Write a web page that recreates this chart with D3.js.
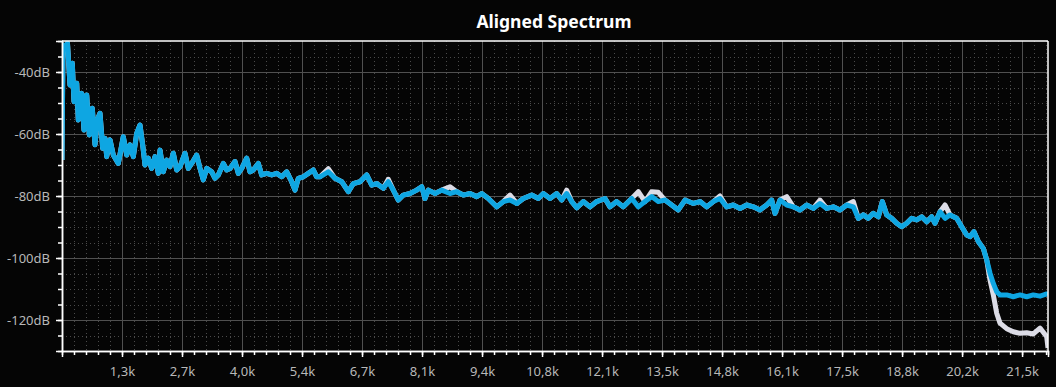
<!DOCTYPE html>
<html>
<head>
<meta charset="utf-8">
<script src="https://cdn.jsdelivr.net/npm/d3@7"></script>
<style>
  html, body { margin: 0; padding: 0; background: #050505; }
  svg { display: block; }
</style>
</head>
<body>
<svg id="spectrum"></svg>
<script>
// frequency of each sample (Hz)
var freqs = [
  0, 22, 67, 123, 179, 231, 269, 330, 365, 442, 493, 554, 612, 679, 740, 791, 852, 912, 964, 1002,
  1076, 1150, 1262, 1374, 1451, 1525, 1599, 1675, 1749, 1809, 1861, 1935, 2011, 2085, 2159, 2197, 2271, 2347, 2421, 2495,
  2572, 2646, 2758, 2832, 2908, 3020, 3094, 3168, 3244, 3356, 3430, 3504, 3616, 3693, 3767, 3879, 3953, 4029, 4141, 4215,
  4289, 4401, 4477, 4589, 4702, 4814, 4926, 5038, 5150, 5224, 5298, 5410, 5522, 5634, 5710, 5784, 5970, 6121, 6271, 6419,
  6531, 6681, 6831, 6944, 7056, 7204, 7316, 7428, 7540, 7652, 7802, 7952, 8065, 8138, 8212, 8363, 8513, 8699, 8849, 8997,
  9147, 9297, 9410, 9558, 9746, 9894, 10044, 10195, 10343, 10531, 10679, 10791, 10941, 11091, 11203, 11315, 11428, 11540, 11688, 11838,
  11988, 12174, 12286, 12436, 12584, 12773, 12921, 13071, 13221, 13369, 13519, 13669, 13817, 13968, 14154, 14304, 14454, 14602, 14752, 14902,
  15050, 15201, 15351, 15499, 15649, 15799, 15911, 15985, 16097, 16248, 16396, 16546, 16696, 16844, 16994, 17144, 17292, 17443, 17593, 17741,
  17853, 17965, 18077, 18189, 18302, 18391, 18490, 18602, 18714, 18826, 18938, 19050, 19162, 19275, 19387, 19499, 19573, 19685, 19797, 19909,
  20059, 20171, 20283, 20357, 20447, 20543, 20655, 20732, 20806, 20880, 20956, 21030, 21180, 21328, 21478, 21628, 21776, 21927, 22077, 22106
];

// aligned spectrum (blue)
var alignedDb = [
  -68.4, -31.3, -32.5, -30.7, -44.2, -37.2, -49.6, -43.6, -55.5, -46.9, -58.7, -47.4, -60.3, -51.7, -63.5, -55.5, -53.3, -64.6, -61.4, -67.3,
  -61.9, -66.8, -69.5, -60.9, -66.8, -63.5, -67.3, -59.8, -57.1, -63.5, -70.0, -67.8, -71.1, -67.3, -72.7, -65.2, -72.2, -68.4, -70.5, -66.2,
  -71.6, -70.5, -66.2, -71.1, -69.5, -66.8, -71.1, -74.8, -71.1, -72.2, -74.3, -73.2, -69.5, -71.6, -71.1, -68.9, -72.7, -71.1, -67.8, -72.2,
  -71.6, -69.5, -73.2, -72.7, -73.2, -72.7, -73.8, -72.2, -75.4, -78.1, -74.3, -73.8, -72.7, -71.6, -73.8, -73.8, -72.2, -74.3, -75.4, -78.6,
  -76.0, -75.4, -73.2, -76.5, -76.0, -77.5, -75.4, -78.1, -81.3, -79.7, -79.2, -78.1, -77.0, -80.8, -78.1, -79.2, -78.1, -79.2, -78.6, -79.7,
  -79.2, -80.2, -79.2, -80.8, -83.5, -81.8, -81.3, -82.4, -80.8, -79.7, -80.8, -79.2, -80.8, -79.2, -81.3, -79.2, -81.8, -83.8, -81.8, -83.5,
  -81.8, -80.8, -83.5, -81.8, -83.5, -80.8, -83.5, -81.8, -80.2, -81.8, -81.3, -82.9, -84.5, -81.3, -82.4, -81.8, -83.5, -81.8, -80.8, -83.5,
  -82.9, -84.0, -82.9, -83.5, -84.5, -82.9, -81.3, -85.6, -81.3, -82.9, -83.5, -84.5, -82.9, -84.0, -82.4, -84.0, -83.5, -84.5, -82.9, -83.5,
  -87.2, -86.1, -87.2, -85.6, -86.7, -81.8, -86.1, -87.2, -88.8, -89.9, -88.8, -87.2, -87.7, -86.7, -88.3, -86.7, -88.8, -85.1, -87.2, -86.1,
  -87.2, -89.9, -92.6, -93.1, -91.5, -94.7, -96.9, -100.6, -104.9, -108.2, -110.9, -111.9, -111.9, -112.5, -111.9, -112.5, -111.9, -112.3, -111.6, -111.8
];

// reference spectrum (white, mostly hidden under the blue one)
var referenceDb = [
  -68.4, -31.3, -32.5, -30.7, -44.2, -37.2, -49.6, -43.6, -55.5, -46.9, -58.7, -47.4, -60.3, -51.7, -63.5, -55.5, -53.3, -64.6, -61.4, -67.3,
  -61.9, -66.8, -69.5, -60.9, -66.8, -63.5, -67.3, -59.8, -57.1, -63.5, -70.0, -67.8, -71.1, -67.3, -72.7, -65.2, -72.2, -68.4, -70.5, -66.2,
  -71.6, -70.5, -66.2, -71.1, -69.5, -66.8, -71.1, -74.8, -71.1, -72.2, -74.3, -73.2, -69.5, -71.6, -71.1, -68.9, -72.7, -71.1, -67.8, -72.2,
  -71.6, -69.5, -73.2, -72.7, -73.2, -72.7, -73.8, -72.2, -75.4, -78.1, -74.3, -73.8, -72.7, -71.6, -73.8, -73.8, -71.2, -74.3, -75.4, -78.6,
  -76.0, -75.4, -73.2, -76.5, -76.0, -77.5, -74.6, -78.1, -81.3, -79.7, -79.2, -78.1, -77.0, -80.8, -78.1, -79.2, -78.1, -77.0, -78.6, -79.7,
  -79.2, -80.2, -79.2, -80.8, -83.5, -81.8, -79.7, -82.4, -80.8, -79.7, -80.8, -79.2, -80.8, -79.2, -81.3, -78.1, -81.8, -83.8, -81.8, -83.5,
  -81.8, -80.8, -83.5, -81.8, -83.5, -80.8, -78.6, -81.8, -78.6, -78.8, -81.3, -82.9, -84.5, -81.3, -82.4, -81.8, -83.5, -81.8, -80.0, -83.5,
  -82.9, -84.0, -82.9, -83.5, -84.5, -82.9, -81.3, -85.6, -81.3, -80.2, -83.5, -84.5, -82.9, -84.0, -81.3, -84.0, -83.5, -84.5, -82.9, -81.8,
  -87.2, -86.1, -87.2, -85.6, -86.7, -81.8, -86.1, -87.2, -88.8, -89.9, -88.8, -87.2, -87.7, -86.7, -88.3, -86.7, -88.8, -85.1, -82.9, -86.1,
  -87.2, -89.9, -92.6, -93.1, -91.5, -94.7, -96.9, -100.6, -107.1, -111.9, -117.8, -121.0, -122.8, -123.8, -124.3, -124.1, -124.5, -122.6, -125.4, -129.0
];

var xTickLabels = ["1,3k", "2,7k", "4,0k", "5,4k", "6,7k", "8,1k", "9,4k", "10,8k", "12,1k",
                   "13,5k", "14,8k", "16,1k", "17,5k", "18,8k", "20,2k", "21,5k"];
var xTickStep = 1345.3;
var yTickValues = [-120, -100, -80, -60, -40];

var W = 1056, H = 387;
var margin = { top: 41, right: 8, bottom: 36, left: 62 };
var width = W - margin.left - margin.right,
    height = H - margin.top - margin.bottom;

var x = d3.scaleLinear().domain([0, 22106]).range([0, width]);
var y = d3.scaleLinear().domain([-130, -30]).range([height, 0]);

var xMajor = d3.range(1, xTickLabels.length + 1).map(i => i * xTickStep);
var xMinor = d3.range(1, 83).map(i => i * xTickStep / 5).filter(v => v < x.domain()[1]);
var yMinor = d3.range(-125, -30, 5);

var svg = d3.select("#spectrum")
  .attr("width", W)
  .attr("height", H)
  .style("background", "#050505");

svg.append("text")
  .attr("x", 554)
  .attr("y", 28)
  .attr("text-anchor", "middle")
  .attr("font-family", "'Noto Sans', 'Open Sans', sans-serif")
  .attr("font-weight", "bold")
  .attr("font-size", "17.5px")
  .attr("fill", "#ffffff")
  .text("Aligned Spectrum");

var g = svg.append("g")
  .attr("transform", "translate(" + margin.left + "," + margin.top + ")");

// dotted minor grid
g.append("g").selectAll("line")
  .data(xMinor)
  .enter().append("line")
  .attr("x1", d => Math.round(x(d)) + 0.5).attr("x2", d => Math.round(x(d)) + 0.5)
  .attr("y1", 0).attr("y2", height)
  .attr("stroke", "#4a4a4a")
  .attr("stroke-dasharray", "1,3");

g.append("g").selectAll("line")
  .data(yMinor)
  .enter().append("line")
  .attr("y1", d => Math.round(y(d)) + 0.5).attr("y2", d => Math.round(y(d)) + 0.5)
  .attr("x1", 0).attr("x2", width)
  .attr("stroke", "#4a4a4a")
  .attr("stroke-dasharray", "1,3");

// solid major grid
g.append("g").selectAll("line")
  .data(xMajor)
  .enter().append("line")
  .attr("x1", d => Math.round(x(d)) + 0.5).attr("x2", d => Math.round(x(d)) + 0.5)
  .attr("y1", 0).attr("y2", height)
  .attr("stroke", "#505050");

g.append("g").selectAll("line")
  .data(yTickValues)
  .enter().append("line")
  .attr("y1", d => Math.round(y(d)) + 0.5).attr("y2", d => Math.round(y(d)) + 0.5)
  .attr("x1", 0).attr("x2", width)
  .attr("stroke", "#505050");

// spectra
g.append("clipPath").attr("id", "plot-clip")
  .append("rect").attr("width", width).attr("height", height);

var line = d3.line()
  .x((d, i) => x(freqs[i]))
  .y(d => y(d));

g.append("path")
  .datum(referenceDb)
  .attr("clip-path", "url(#plot-clip)")
  .attr("fill", "none")
  .attr("stroke", "#dcdce6")
  .attr("stroke-width", 5)
  .attr("stroke-linejoin", "round")
  .attr("d", line);

g.append("path")
  .datum(alignedDb)
  .attr("clip-path", "url(#plot-clip)")
  .attr("fill", "none")
  .attr("stroke", "#0ea6e2")
  .attr("stroke-width", 5)
  .attr("stroke-linejoin", "round")
  .attr("d", line);

// axes
var xAxisMinor = d3.axisBottom(x).tickValues(xMinor).tickSize(4).tickFormat("");
var xAxis = d3.axisBottom(x).tickValues(xMajor).tickSize(6)
  .tickFormat((d, i) => xTickLabels[i]);
var yAxisMinor = d3.axisLeft(y).tickValues(yMinor).tickSize(4).tickFormat("");
var yAxis = d3.axisLeft(y).tickValues(yTickValues).tickSize(6)
  .tickFormat(d => d + "dB");

function styleAxis(sel) {
  sel.select(".domain").attr("stroke", "#ffffff").attr("stroke-width", 1.5);
  sel.selectAll(".tick line").attr("stroke", "#ffffff").attr("stroke-width", 1.5);
  sel.selectAll(".tick text")
    .attr("fill", "#b8b8b8")
    .attr("font-family", "'Noto Sans', 'Open Sans', sans-serif")
    .attr("font-size", "13px");
}

g.append("g").attr("transform", "translate(0," + height + ")").call(xAxisMinor).call(styleAxis);
g.append("g").attr("transform", "translate(0," + height + ")").call(xAxis).call(styleAxis)
  .selectAll(".tick text").attr("dy", "1.2em");
g.append("g").call(yAxisMinor).call(styleAxis);
g.append("g").call(yAxis).call(styleAxis)
  .selectAll(".tick text").attr("x", -12);

// top and right frame
g.append("line").attr("x1", 0).attr("x2", width).attr("y1", 0).attr("y2", 0)
  .attr("stroke", "#ffffff").attr("stroke-width", 1.5);
g.append("line").attr("x1", width).attr("x2", width).attr("y1", 0).attr("y2", height)
  .attr("stroke", "#ffffff").attr("stroke-width", 1.5);
</script>
</body>
</html>
